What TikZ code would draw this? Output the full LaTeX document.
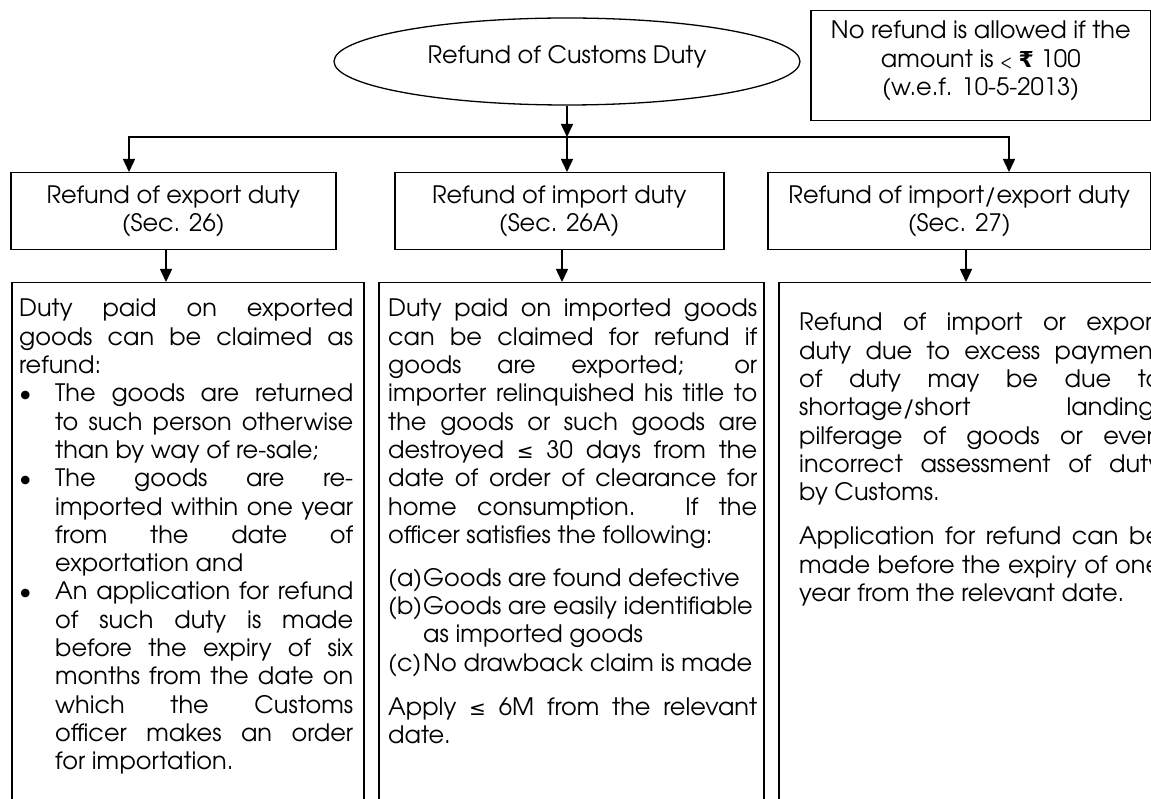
\documentclass[tikz,border=0pt]{standalone}
\usepackage{fontspec}
\newfontfamily\cg{texgyreadventor-regular.otf}
\newfontfamily\symf{DejaVu Sans}
\usetikzlibrary{shapes.geometric,arrows.meta}
\newcommand\fs{\fontsize{24}{28.3}\selectfont}
\newcommand\nsp{\spaceskip=0pt\xspaceskip=0pt\relax}
\newcommand\jl[1]{\makebox[\linewidth][s]{\nsp#1}}
\newcommand\bl[1]{\makebox[36pt][l]{\hspace{0pt}\textbullet}\makebox[\dimexpr\linewidth-36pt\relax][s]{\nsp#1}}
\newcommand\bc[1]{\hspace*{36pt}\makebox[\dimexpr\linewidth-36pt\relax][s]{\nsp#1}}
\newcommand\bn[1]{\hspace*{36pt}\mbox{\nsp#1}}
\newcommand\nl[1]{\mbox{\nsp#1}}
\newcommand\lte{{\symf\fontsize{20}{28.3}\selectfont ≤}}
\newcommand\rupee{{\symf\bfseries\fontsize{22}{28.3}\selectfont ₹}}
\newcommand\smlt{{\fontsize{16}{28.3}\selectfont <}}
\begin{document}
\begin{tikzpicture}[x=1pt,y=-1pt,
  every node/.style={font=\cg\fs, inner sep=0pt, text=black},
  hbox/.style={draw, line width=1.5pt, anchor=north west, align=center},
  cbox/.style={draw, line width=1.5pt, anchor=north west},
  para/.style={anchor=base west, align=justify},
  arr/.style={line width=1.5pt, -{Triangle[length=13pt,width=12pt]}},
  ]
\path[use as bounding box] (0,0) rectangle (1151,799);
\clip (0,0) rectangle (1151,799);

% root ellipse
\node[ellipse, draw, line width=1.3pt, minimum width=466pt, minimum height=87pt,
      text depth=15pt] (root) at (567,61.5) {Refund of Customs Duty};

% note box
\node[hbox, minimum width=340pt, minimum height=110pt,
      execute at end node={\rule[-15pt]{0pt}{0pt}}] (note) at (810,10)
  {No refund is allowed if the\\amount is \smlt\ \rupee\ 100\\(w.e.f. 10-5-2013)};

% header boxes
\tikzset{hdr/.style={hbox, minimum height=77pt, execute at begin node={\rule{0pt}{26pt}}}}
\node[hdr, minimum width=325pt] (h1) at (10,172)
  {Refund of export duty\\(Sec. 26)};
\node[hdr, minimum width=329pt] (h2) at (394,172)
  {Refund of import duty\\(Sec. 26A)};
\node[hdr, minimum width=383pt] (h3) at (767,172)
  {Refund of import/export duty\\(Sec. 27)};

% content boxes (run past the bottom/right edge)
\node[cbox, minimum width=352pt, minimum height=560pt] (t1) at (11,282) {};
\node[cbox, minimum width=385pt, minimum height=560pt] (t2) at (378,282) {};
\node[cbox, minimum width=400pt, minimum height=560pt] (t3) at (778,282) {};

% connectors
\coordinate (j) at (567,137);
\coordinate (l1) at (129,137);
\coordinate (r1) at (1009,137);
\coordinate (d1) at (166,0);
\coordinate (d2) at (562,0);
\coordinate (d3) at (966,0);
\draw[arr] (root.south) -- (j);
\draw[arr] (j) -- (j |- h2.north);
\draw[arr] (j) -| (l1 |- h1.north);
\draw[arr] (j) -| (r1 |- h3.north);
\draw[arr] (d1 |- h1.south) -- (d1 |- t1.north);
\draw[arr] (d2 |- h2.south) -- (d2 |- t2.north);
\draw[arr] (d3 |- h3.south) -- (d3 |- t3.north);

% texts
\node[para, text width=334pt] (p1) at (19,317) {%
\jl{Duty paid on exported}\\
\jl{goods can be claimed as}\\
\nl{refund:}\\
\bl{The goods are returned}\\
\bc{to such person otherwise}\\
\bn{than by way of re-sale;}\\
\bl{The goods are re-}\\
\bc{imported within one year}\\
\bc{from the date of}\\
\bn{exportation and}\\
\bl{An application for refund}\\
\bc{of such duty is made}\\
\bc{before the expiry of six}\\
\bc{months from the date on}\\
\bc{which the Customs}\\
\bc{officer makes an order}\\
\bn{for importation.}};

\node[para, text width=369pt] (p2) at (388,317) {%
\jl{Duty paid on imported goods}\\
\jl{can be claimed for refund if}\\
\jl{goods are exported; or}\\
\jl{importer relinquished his title to}\\
\jl{the goods or such goods are}\\
\jl{destroyed \lte{} 30 days from the}\\
\jl{date of order of clearance for}\\
\jl{home consumption. If the}\\
\nl{officer satisfies the following:}\\[14.7pt]
\makebox[35pt][l]{(a)}\nl{Goods are found defective}\\
\makebox[35pt][l]{(b)}\nl{Goods are easily identifiable}\\
\hspace*{35pt}\nl{as imported goods}\\
\makebox[35pt][l]{(c)}\nl{No drawback claim is made}\\[15.7pt]
\jl{Apply \lte{} 6M from the relevant}\\
\nl{date.}};

\node[para, text width=362pt] (p3) at (799,331) {%
\jl{Refund of import or export}\\
\jl{duty due to excess payment}\\
\jl{of duty may be due to}\\
\jl{shortage/short landing,}\\
\jl{pilferage of goods or even}\\
\jl{incorrect assessment of duty}\\
\nl{by Customs.}\\[15.7pt]
\jl{Application for refund can be}\\
\jl{made before the expiry of one}\\
\nl{year from the relevant date.}};
\end{tikzpicture}
\end{document}
